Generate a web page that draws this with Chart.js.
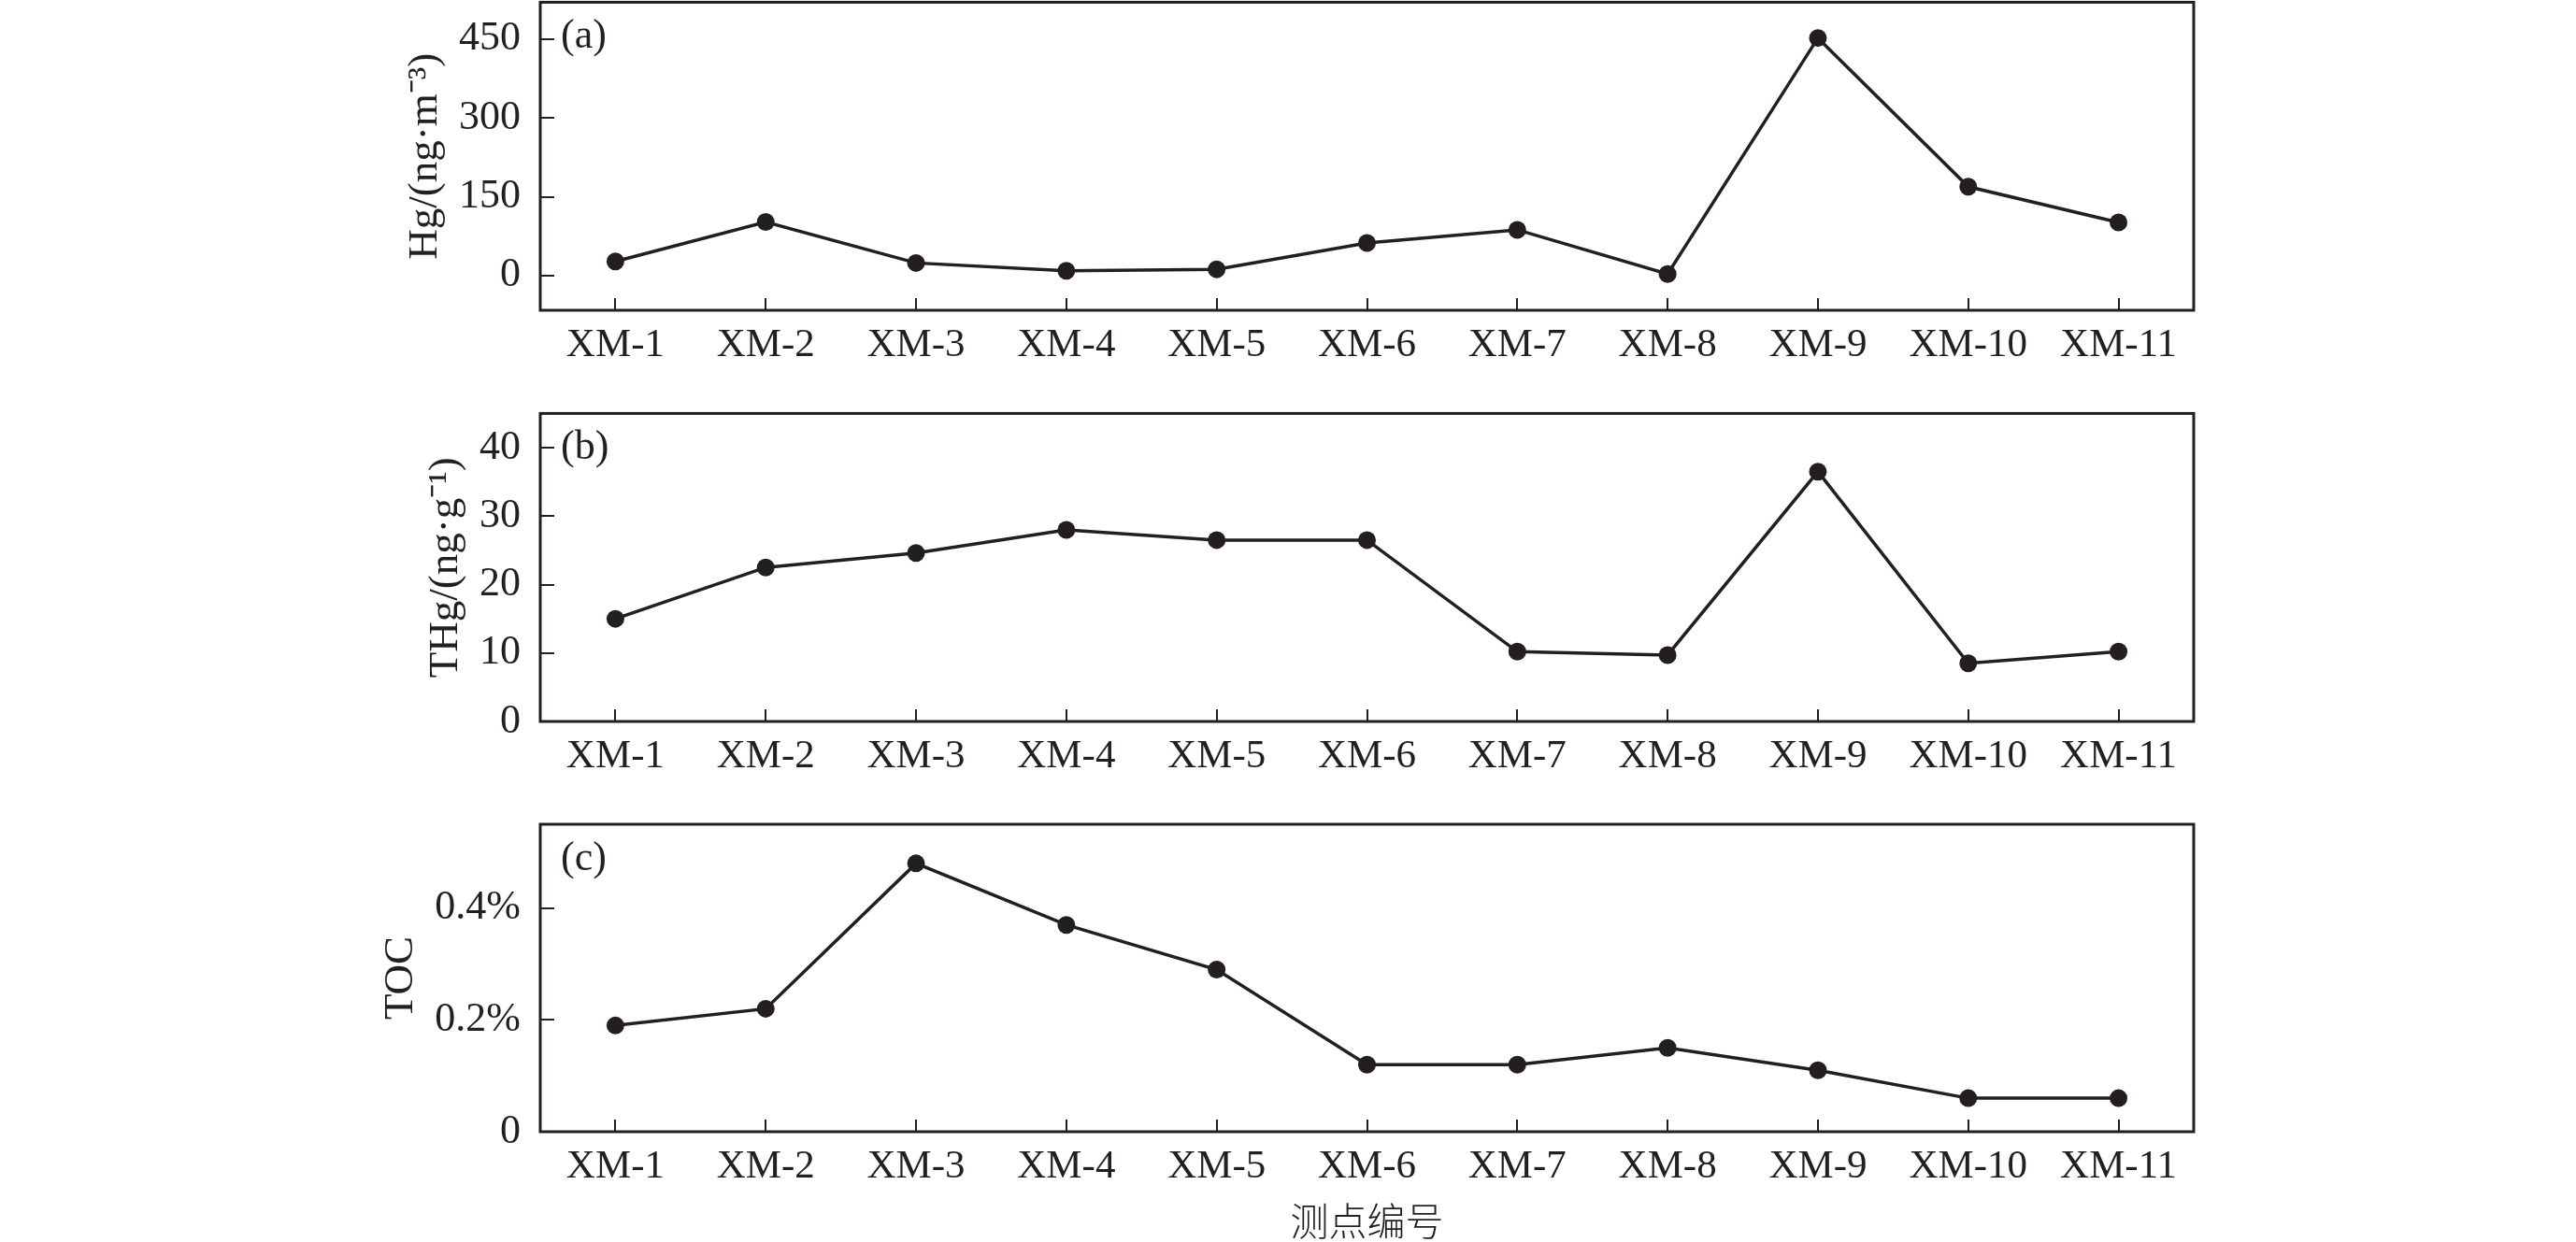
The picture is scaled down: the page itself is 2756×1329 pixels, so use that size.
<!DOCTYPE html>
<html>
<head>
<meta charset="utf-8">
<script src="https://cdn.jsdelivr.net/npm/chart.js@4.4.0/dist/chart.umd.min.js"></script>
<style>
    html, body { margin: 0; padding: 0; background: #ffffff; }
    body { width: 2756px; height: 1329px; position: relative; overflow: hidden; }
    canvas { position: absolute; left: 0; }
</style>
</head>
<body>
<canvas id="panel_a" width="2756" height="480" style="top:-60px"></canvas>
<canvas id="panel_b" width="2756" height="460" style="top:380px"></canvas>
<canvas id="panel_c" width="2756" height="580" style="top:800px"></canvas>
<script>
// Sampling sites
const sites = ['XM-1', 'XM-2', 'XM-3', 'XM-4', 'XM-5', 'XM-6', 'XM-7', 'XM-8', 'XM-9', 'XM-10', 'XM-11'];

// (a) gaseous Hg, ng/m3
const hgAir = [27, 102, 24, 9, 12, 62, 87, 3, 452, 169, 101];
// (b) soil THg, ng/g
const thgSoil = [15, 22.5, 24.6, 28, 26.5, 26.5, 10.2, 9.7, 36.5, 8.5, 10.2];
// (c) soil TOC, %
const tocSoil = [0.19, 0.22, 0.48, 0.37, 0.29, 0.12, 0.12, 0.15, 0.11, 0.06, 0.06];

// tick values on the y axes
const hgTicks = [0, 150, 300, 450];
const thgTicks = [0, 10, 20, 30, 40];
const tocTicks = [0, 0.2, 0.4];

const INK = '#231f20';
const SERIF = '"Liberation Serif", "Times New Roman", serif';

// Draws the closed frame round the plot area and the panel letter
const framePlugin = {
    id: 'frame',
    afterDraw(chart, args, opts)
    {
        const a = chart.chartArea;
        const ctx = chart.ctx;
        ctx.save();
        ctx.strokeStyle = INK;
        ctx.lineWidth = 3;
        ctx.strokeRect(a.left, a.top, a.right - a.left, a.bottom - a.top);
        ctx.fillStyle = INK;
        ctx.font = `44px ${SERIF}`;
        ctx.textBaseline = 'middle';
        ctx.textAlign = 'left';
        ctx.fillText(opts.label, a.left + 22, a.top + 37);
        ctx.restore();
    }
};

function CreatePanel(element_id, data, yMin, yMax, yTicks, yTitle, letter, fmt, xTitle)
{
    return new Chart(document.getElementById(element_id).getContext('2d'),
    {
        type: 'line',
        data: {
            labels: sites,
            datasets: [{
                data: data,
                borderColor: INK,
                borderWidth: 3.5,
                pointRadius: 9.5,
                pointBackgroundColor: INK,
                pointBorderWidth: 0,
                tension: 0
            }]
        },
        options: {
            responsive: false,
            animation: false,
            devicePixelRatio: 1,
            layout: { padding: { left: 0, right: 400, top: 40, bottom: 10 } },
            plugins: {
                legend: { display: false },
                tooltip: { enabled: false },
                frame: { label: letter }
            },
            scales: {
                x: {
                    type: 'category',
                    offset: true,
                    border: { display: false },
                    grid: { drawOnChartArea: false, drawTicks: true, tickLength: -13, color: INK, tickColor: INK, lineWidth: 2 },
                    ticks: { color: INK, font: { family: SERIF, size: 43 }, padding: 25, maxRotation: 0, autoSkip: false },
                    title: {
                        display: !!xTitle,
                        text: xTitle || '',
                        color: INK,
                        font: { family: '"Noto Sans CJK SC", sans-serif', size: 41, weight: 300, lineHeight: 1 },
                        padding: { top: -14, bottom: 0 }
                    }
                },
                y: {
                    min: yMin,
                    max: yMax,
                    border: { display: false },
                    grid: { drawOnChartArea: false, drawTicks: true, tickLength: -15, color: INK, tickColor: INK, lineWidth: 2 },
                    afterBuildTicks: s => { s.ticks = yTicks.map(v => ({ value: v })); },
                    ticks: { color: INK, font: { family: SERIF, size: 44 }, padding: 36, callback: fmt },
                    title: {
                        display: true,
                        text: yTitle,
                        color: INK,
                        font: { family: SERIF, size: 45 },
                        padding: { top: 0, bottom: -27 }
                    }
                }
            }
        },
        plugins: [framePlugin]
    });
}

// Nudge the layout padding so that every plot area sits where the reference frame is
function FitArea(chart, target)
{
    for (let i = 0; i < 3; i++)
    {
        const a = chart.chartArea;
        const pad = chart.options.layout.padding;
        chart.options.layout.padding = {
            left: pad.left + target.left - a.left,
            right: pad.right + a.right - target.right,
            top: pad.top + target.top - a.top,
            bottom: pad.bottom + a.bottom - target.bottom
        };
        chart.update();
    }
}

const plain = v => String(v);
const percent = v => v === 0 ? '0' : v.toFixed(1) + '%';

const chartA = CreatePanel('panel_a', hgAir, -66, 520, hgTicks, 'Hg/(ng·m⁻³)', '(a)', plain, null);
const chartB = CreatePanel('panel_b', thgSoil, 0, 45, thgTicks, 'THg/(ng·g⁻¹)', '(b)', plain, null);
const chartC = CreatePanel('panel_c', tocSoil, 0, 0.55, tocTicks, 'TOC', '(c)', percent, '测点编号');

// frame positions from the reference, in each canvas' own coordinates
FitArea(chartA, { left: 578, right: 2347, top: 63, bottom: 392 });
FitArea(chartB, { left: 578, right: 2347, top: 64, bottom: 392 });
FitArea(chartC, { left: 578, right: 2347, top: 82, bottom: 411 });
</script>
</body>
</html>
